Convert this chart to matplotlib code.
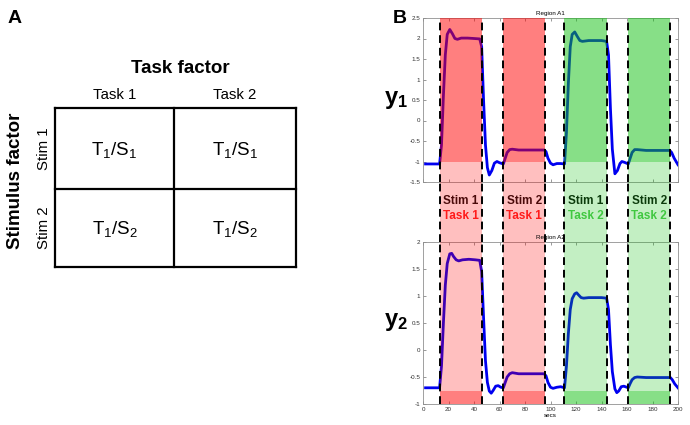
import matplotlib
matplotlib.use("Agg")
import matplotlib.pyplot as plt
import numpy as np

plt.rcParams['font.family'] = ['Liberation Sans', 'DejaVu Sans']
plt.rcParams['mathtext.fontset'] = 'custom'
plt.rcParams['mathtext.rm'] = 'Liberation Sans'
plt.rcParams['mathtext.it'] = 'Liberation Sans:italic'
plt.rcParams['mathtext.bf'] = 'Liberation Sans:bold'

# ---------------- data ----------------
task_labels = ['Task 1', 'Task 2']
stim_labels = ['Stim 1', 'Stim 2']
cell_labels = [[r'$\mathregular{T_1/S_1}$', r'$\mathregular{T_1/S_1}$'],
               [r'$\mathregular{T_1/S_2}$', r'$\mathregular{T_1/S_2}$']]

block_starts = [13.3, 63, 110.6, 161]
block_ends = [46, 96, 144.5, 194]
block_stim = ['Stim 1', 'Stim 2', 'Stim 1', 'Stim 2']
block_task = ['Task 1', 'Task 1', 'Task 2', 'Task 2']
block_kind = ['red', 'red', 'green', 'green']

t1 = [2, 13, 14.5, 16, 17.5, 19, 21, 23, 25, 27, 30, 35, 40, 44.5, 46, 47.5, 49, 50.5,
      52, 54, 56, 58, 60, 63, 64.5, 66, 68, 70, 75, 85, 95, 96.5, 98, 100, 102, 105,
      108, 111, 112.5, 114, 115.5, 117, 119, 121, 123, 125, 130, 140, 144, 145.5, 147,
      148.5, 150.5, 152.5, 154.5, 156, 158, 161, 162.5, 164, 166, 168, 175, 185,
      193.5, 195, 197, 200]
y1 = [-1.06, -1.06, -0.6, 0.6, 1.6, 2.1, 2.22, 2.12, 2.0, 1.98, 2.01, 2.01, 2.0, 1.99,
      1.8, 0.5, -0.6, -1.15, -1.33, -1.22, -1.04, -1.0, -1.03, -1.06, -0.92, -0.78,
      -0.71, -0.70, -0.72, -0.72, -0.72, -0.76, -0.92, -1.04, -1.08, -1.05, -1.05,
      -1.06, -0.3, 0.9, 1.8, 2.1, 2.16, 2.05, 1.95, 1.93, 1.95, 1.95, 1.93, 1.6, 0.3,
      -0.7, -1.3, -1.22, -1.05, -1.0, -1.02, -1.06, -0.92, -0.78, -0.71, -0.71, -0.73,
      -0.73, -0.73, -0.78, -0.92, -1.08]

t2 = [2, 13, 14.5, 16, 17.5, 19, 21, 22.5, 24, 26, 28, 31, 36, 41, 44.5, 46, 47.5, 49,
      50.5, 52, 53.5, 55, 57, 59, 61, 63, 64.5, 66, 68, 70, 75, 85, 95, 96.5, 98, 100,
      102, 105, 108, 111, 112.5, 114, 115.5, 117, 119, 120.5, 122, 124, 126, 130, 140,
      144, 145.5, 147, 148.5, 150.5, 152, 153.5, 155.5, 157.5, 161, 162.5, 164, 166,
      168, 175, 185, 194, 195.5, 197.5, 200]
y2 = [-0.70, -0.70, -0.3, 0.5, 1.2, 1.6, 1.78, 1.79, 1.73, 1.67, 1.65, 1.67, 1.68, 1.67,
      1.66, 1.45, 0.6, -0.2, -0.6, -0.76, -0.80, -0.75, -0.67, -0.66, -0.69, -0.70,
      -0.6, -0.5, -0.44, -0.42, -0.44, -0.44, -0.44, -0.48, -0.6, -0.69, -0.71, -0.69,
      -0.68, -0.70, -0.3, 0.3, 0.75, 0.95, 1.04, 1.06, 1.02, 0.97, 0.96, 0.97, 0.97,
      0.96, 0.75, 0.1, -0.4, -0.72, -0.79, -0.76, -0.68, -0.67, -0.70, -0.62, -0.55,
      -0.51, -0.50, -0.51, -0.51, -0.51, -0.55, -0.63, -0.70]

xticks = list(range(0, 201, 20))
yticks1 = [-1.5, -1, -0.5, 0, 0.5, 1, 1.5, 2, 2.5]
yticks2 = [-1, -0.5, 0, 0.5, 1, 1.5, 2]

# ---------------- figure ----------------
W, H = 690, 425
fig = plt.figure(figsize=(W / 100, H / 100), dpi=100)

# Panel A drawn in pixel coordinates
axA = fig.add_axes([0, 0, 1, 1])
axA.set_xlim(0, W)
axA.set_ylim(H, 0)
axA.axis('off')

axA.text(15, 18, 'A', fontsize=14, fontweight='bold', ha='center', va='center')
axA.text(180, 68, 'Task factor', fontsize=13.5, fontweight='bold', ha='center', va='center')
axA.text(16, 181, 'Stimulus factor', fontsize=13.5, fontweight='bold', ha='center',
         va='center', rotation=90)
L, R, T, B = 55, 296, 108, 267
MX, MY = 174, 189
for (xa, xb, ya, yb) in [(L, R, T, T), (L, R, B, B), (L, R, MY, MY),
                          (L, L, T, B), (R, R, T, B), (MX, MX, T, B)]:
    axA.plot([xa, xb], [ya, yb], color='black', lw=1.6, solid_capstyle='projecting')
col_centers = [(L + MX) / 2, (MX + R) / 2]
row_centers = [(T + MY) / 2, (MY + B) / 2]
for j, lab in enumerate(task_labels):
    axA.text(col_centers[j], 95, lab, fontsize=10.8, ha='center', va='center')
for i, lab in enumerate(stim_labels):
    axA.text(44, row_centers[i], lab, fontsize=10.8, ha='center', va='center', rotation=90)
for i in range(2):
    for j in range(2):
        axA.text(col_centers[j], row_centers[i] + 1, cell_labels[i][j], fontsize=13.5,
                 ha='center', va='center')

axA.text(400, 18, 'B', fontsize=14, fontweight='bold', ha='center', va='center')
axA.text(396, 100, r'$\mathbf{y_1}$', fontsize=17, ha='center', va='center')
axA.text(396, 322, r'$\mathbf{y_2}$', fontsize=17, ha='center', va='center')

# Panel B axes
def frac_rect(x0, y0, x1, y1):
    return [x0 / W, 1 - y1 / H, (x1 - x0) / W, (y1 - y0) / H]

ax1 = fig.add_axes(frac_rect(423, 18, 678, 182))
axg = fig.add_axes(frac_rect(423, 182, 678, 242))
ax2 = fig.add_axes(frac_rect(423, 242, 678, 404))
for a in (ax1, axg, ax2):
    a.set_facecolor('none')

base_col = {'red': '#ff0000', 'green': '#10c010'}
stim_col = {'red': '#4a0a0a', 'green': '#0b3a0b'}
task_col = {'red': '#ff1a1a', 'green': '#40c840'}

lw_dash = 1.4
dash = (0, (4, 2.5))

# top axes
ax1.plot(t1, y1, color='#0000f0', lw=2.0, zorder=2)
ax1.set_xlim(0, 200)
ax1.set_ylim(-1.5, 2.5)
split1 = (-1 - (-1.5)) / 4.0
for s, e, k in zip(block_starts, block_ends, block_kind):
    ax1.axvspan(s, e, ymin=split1, ymax=1, color=base_col[k], alpha=0.5, lw=0, zorder=3)
    ax1.axvspan(s, e, ymin=0, ymax=split1, color=base_col[k], alpha=0.25, lw=0, zorder=3)
    for xv in (s, e):
        ax1.axvline(xv, color='black', lw=lw_dash, linestyle=dash, zorder=4)
ax1.set_xticks(xticks)
ax1.set_xticklabels([])
ax1.set_yticks(yticks1)
ax1.set_yticklabels(['-1.5', '-1', '-0.5', '0', '0.5', '1', '1.5', '2', '2.5'])
ax1.set_title('Region A1', fontsize=4.5, pad=2)

# gap axes
axg.set_xlim(0, 200)
axg.set_ylim(0, 1)
axg.axis('off')
for s, e, k, st, tk in zip(block_starts, block_ends, block_kind, block_stim, block_task):
    axg.axvspan(s, e, color=base_col[k], alpha=0.25, lw=0, zorder=1)
    for xv in (s, e):
        axg.axvline(xv, color='black', lw=lw_dash, linestyle=dash, zorder=4)
    cx = (s + e) / 2
    axg.text(cx, 0.68, st, fontsize=8.5, fontweight='bold', color=stim_col[k],
             ha='center', va='center', zorder=5)
    axg.text(cx, 0.43, tk, fontsize=8.5, fontweight='bold', color=task_col[k],
             ha='center', va='center', zorder=5)

# bottom axes
ax2.plot(t2, y2, color='#0000f0', lw=2.0, zorder=2)
ax2.set_xlim(0, 200)
ax2.set_ylim(-1, 2)
split2 = (-0.75 - (-1)) / 3.0
for s, e, k in zip(block_starts, block_ends, block_kind):
    ax2.axvspan(s, e, ymin=split2, ymax=1, color=base_col[k], alpha=0.25, lw=0, zorder=3)
    ax2.axvspan(s, e, ymin=0, ymax=split2, color=base_col[k], alpha=0.5, lw=0, zorder=3)
    for xv in (s, e):
        ax2.axvline(xv, color='black', lw=lw_dash, linestyle=dash, zorder=4)
ax2.set_xticks(xticks)
ax2.set_xticklabels([str(v) for v in xticks])
ax2.set_yticks(yticks2)
ax2.set_yticklabels(['-1', '-0.5', '0', '0.5', '1', '1.5', '2'])
ax2.set_xlabel('secs', fontsize=4.5, labelpad=1)
ax2.set_title('Region A2', fontsize=4.5, pad=2)

for a in (ax1, ax2):
    for sp in a.spines.values():
        sp.set_color('#909090')
        sp.set_linewidth(0.6)
    a.tick_params(direction='in', length=2, width=0.5, colors='#707070', labelsize=4.5,
                  labelcolor='#303030', pad=2, top=True, right=True)

fig.savefig('out.png', dpi=100)
